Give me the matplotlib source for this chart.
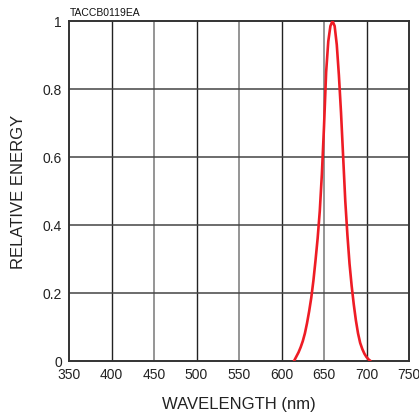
import matplotlib
matplotlib.use("Agg")
import matplotlib.pyplot as plt

plt.rcParams["font.family"] = ["Liberation Sans", "DejaVu Sans"]

# spectrum
wavelength = [615, 617.5, 620, 622.5, 625, 627.5, 630, 632.5, 635, 637.5,
              640, 642.5, 645, 647.5, 650, 652.5, 655, 657.5, 660, 662.5,
              665, 667.5, 670, 672.5, 675, 677.5, 680, 682.5, 685, 687.5,
              690, 692.5, 695, 697.5, 700, 702.5, 704]
energy = [0.0, 0.012, 0.024, 0.039, 0.057, 0.080, 0.110, 0.145, 0.185, 0.235,
          0.295, 0.36, 0.44, 0.55, 0.69, 0.85, 0.94, 0.985, 1.0, 0.985,
          0.93, 0.84, 0.73, 0.60, 0.47, 0.37, 0.285, 0.22, 0.165, 0.118,
          0.08, 0.052, 0.034, 0.02, 0.01, 0.003, 0.0]

x_ticks = [350, 400, 450, 500, 550, 600, 650, 700, 750]
y_ticks = [0, 0.2, 0.4, 0.6, 0.8, 1]
y_tick_labels = ["0", "0.2", "0.4", "0.6", "0.8", "1"]
dark_x = [400, 500, 600, 700]
light_x = [450, 550, 650]

fig = plt.figure(figsize=(4.19, 4.14), dpi=100)
ax = fig.add_axes([0.1647, 0.1268, 0.8115, 0.8201])

for xv in dark_x:
    ax.axvline(xv, color="#222222", lw=1.0, zorder=1)
for xv in light_x:
    ax.axvline(xv, color="#8c8c8c", lw=1.3, zorder=1)
for yv in y_ticks[1:-1]:
    ax.axhline(yv, color="#444444", lw=1.1, zorder=1)

ax.plot(wavelength, energy, color="#ee1c25", lw=1.9, zorder=3,
        solid_joinstyle="round")

ax.set_xlim(350, 750)
ax.set_ylim(0, 1)
ax.set_xticks(x_ticks)
ax.set_yticks(y_ticks)
ax.set_yticklabels(y_tick_labels)
ax.tick_params(length=0, pad=5, labelsize=10, colors="#222222")
for s in ax.spines.values():
    s.set_color("#333333")
    s.set_linewidth(1.4)

ax.set_xlabel("WAVELENGTH (nm)", fontsize=12, color="#222222", va="center")
ax.set_ylabel("RELATIVE ENERGY", fontsize=12, color="#222222",
              va="center", ha="center", rotation_mode="default")
ax.xaxis.set_label_coords(0.5, -0.128)
ax.yaxis.set_label_coords(-0.15, 0.5)
fig.text(0.167, 0.962, "TACCB0119EA", fontsize=7.5, color="#111111", va="baseline")

fig.savefig("out.png", dpi=100)
